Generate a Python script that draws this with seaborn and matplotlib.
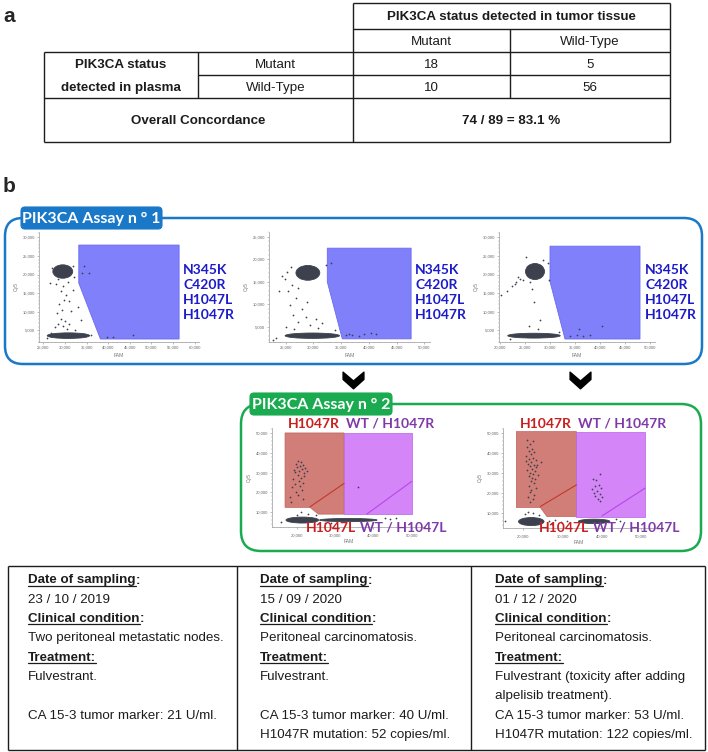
import matplotlib
matplotlib.use("Agg")
import matplotlib.pyplot as plt
import seaborn as sns
from matplotlib.patches import Ellipse, FancyBboxPatch
from matplotlib.path import Path
from matplotlib.ticker import FuncFormatter, AutoMinorLocator
from matplotlib import font_manager as fm

W, H = 708, 752

# ---------------- panel a : concordance table ----------------
tissue_status = ["Mutant", "Wild-Type"]
plasma_status = ["Mutant", "Wild-Type"]
counts = [[18, 5], [10, 56]]
n_concordant, n_total = 74, 89

# ---------------- panel b : ddPCR droplet plots ----------------
assay1_targets = ["N345K", "C420R", "H1047L", "H1047R"]

# assay 1, sample 23/10/2019
a1_s1_gate_x = [33200, 56400, 56400, 38200, 33200]
a1_s1_gate_y = [27900, 27900, 2700, 2700, 17700]
a1_s1_clusters = [(29500, 20800, 4600, 3600), (30800, 3600, 9800, 1500)]  # x, y, spread x, spread y
a1_s1_drops = [(28000, 17500), (29500, 16800), (30600, 17900), (29000, 15500), (30200, 14600),
               (29800, 13200), (28600, 12100), (30900, 12800), (29300, 10600), (28200, 9700),
               (31500, 10200), (33000, 11400), (29000, 8100), (30000, 7400), (28500, 6800),
               (29600, 6100), (31000, 6600), (27600, 5900), (30400, 5400), (32300, 5200),
               (33600, 7900), (26500, 17800), (31900, 15800), (34300, 22200), (35500, 20500),
               (33900, 20300), (39700, 3300), (41200, 3300), (45800, 3900), (27000, 21800),
               (31800, 22400), (28300, 18900), (32000, 19200), (26800, 4300), (34500, 4100),
               (36000, 3800), (25800, 2900)]

# assay 1, sample 15/09/2020
a1_s2_gate_x = [32500, 47600, 47600, 35200, 32500]
a1_s2_gate_y = [22500, 22500, 2300, 2300, 15000]
a1_s2_clusters = [(29000, 17000, 4300, 3300), (29800, 3000, 9800, 1200)]
a1_s2_drops = [(24900, 15600), (26200, 14200), (25500, 12900), (27300, 13600), (26800, 11400),
               (25800, 9800), (27900, 8900), (26400, 7700), (28600, 7200), (27200, 6100),
               (29300, 5400), (30400, 6700), (31500, 5900), (25100, 5000), (24300, 16400),
               (23800, 13000), (28900, 10600), (30900, 4700), (23200, 2400), (22800, 2100),
               (35800, 3100), (37000, 3200), (38200, 3000), (39100, 3400), (40300, 3500),
               (41200, 3300), (36400, 3300), (33200, 19200), (26000, 18300), (25200, 17100),
               (32200, 18800), (26500, 4400), (33800, 4200)]

# assay 1, sample 01/12/2020
a1_s3_gate_x = [30000, 48000, 48000, 33000, 30000]
a1_s3_gate_y = [27600, 27600, 2700, 2700, 18100]
a1_s3_clusters = [(27000, 20800, 3800, 4300), (26800, 3600, 10500, 1300)]
a1_s3_drops = [(23500, 19300), (22400, 17000), (22900, 17400), (21300, 15700), (24600, 18500),
               (25900, 17900), (24000, 18900), (23200, 18000), (25200, 24800), (26800, 12700),
               (28000, 7800), (27500, 5500), (25700, 6300), (35700, 5500), (40300, 6200),
               (34000, 3600), (35300, 3700), (38000, 3800), (36500, 3600), (20200, 14500),
               (29500, 23000), (28600, 24000), (26300, 16000), (29800, 18500), (31800, 4600),
               (22000, 2600)]

# assay 2 (H1047R / H1047L), samples 15/09/2020 and 01/12/2020
a2_s2_red_x = [17000, 32400, 32400, 25700, 23500, 17000]
a2_s2_red_y = [50000, 50000, 9000, 9000, 12400, 12400]
a2_s2_purple_x = [32400, 50000, 50000, 32400]
a2_s2_purple_y = [50000, 50000, 9000, 9000]
a2_s2_split = [([23500, 32400], [12700, 24500]), ([38300, 50000], [9000, 25500])]
a2_s2_clusters = [(21500, 6000, 8500, 3000), (33500, 6000, 15000, 1600)]
a2_s2_drops = [(20500, 36000), (21200, 35200), (19800, 34100), (20900, 33500), (21800, 33900),
               (20200, 32600), (21500, 31800), (22300, 32400), (20700, 30900), (19500, 30200),
               (21900, 29700), (20400, 28800), (22000, 28100), (21100, 27300), (19200, 26500),
               (20600, 25600), (21700, 24900), (19600, 24100), (20900, 23200), (18900, 22700),
               (21300, 21400), (19900, 20200), (20500, 18800), (18400, 17700), (21600, 16500),
               (18600, 15100), (19400, 31400), (22600, 30600), (36100, 22600),
               (44500, 6600), (46000, 6800), (27500, 4500), (29000, 4300), (25000, 8500),
               (21200, 10000), (20000, 8600), (23000, 8900), (16000, 5200), (43000, 7200)]

a2_s3_red_x = [18200, 33500, 33500, 26000, 24300, 18200]
a2_s3_red_y = [50500, 50500, 8200, 8200, 12700, 12700]
a2_s3_purple_x = [33500, 51000, 51000, 33500]
a2_s3_purple_y = [50500, 50500, 8200, 8200]
a2_s3_split = [([24300, 33500], [13200, 24000]), ([40000, 51000], [8500, 22400])]
a2_s3_clusters = [(22000, 5700, 6500, 4000), (38000, 5800, 8000, 2200)]
a2_s3_drops = [(21000, 46500), (22400, 45800), (21600, 44200), (20900, 42700), (22100, 41900),
               (21400, 40800), (22800, 40100), (21900, 39200), (20700, 38500), (22500, 37600),
               (21300, 36900), (23100, 36200), (22000, 35400), (21200, 34600), (22700, 34000),
               (21700, 33300), (23300, 32700), (22200, 32100), (21000, 31400), (22900, 30800),
               (21800, 30100), (22500, 29400), (23600, 28900), (21400, 28300), (22300, 27600),
               (23000, 26800), (21900, 25900), (22600, 24700), (21300, 23500), (23200, 22600),
               (22000, 21400), (21600, 20200), (22800, 19100), (21100, 18000), (22400, 16900),
               (21700, 15300), (23400, 33800), (20600, 36000), (24600, 35200),
               (39500, 29500), (37800, 27000), (38500, 26500), (39200, 24100), (38100, 23200),
               (39800, 22600), (37400, 21700), (38800, 20900), (39600, 19300), (38300, 18600),
               (40100, 17800), (38900, 16900), (39400, 15900), (37900, 20100),
               (15300, 6000), (21200, 10500), (20500, 9300), (22500, 9800), (26500, 5800),
               (28000, 6300), (29500, 5500), (31000, 6100), (27200, 4600), (43500, 6800),
               (44600, 5900), (24000, 9000)]

clinical_dates = ["23 / 10 / 2019", "15 / 09 / 2020", "01 / 12 / 2020"]
clinical_condition = ["Two peritoneal metastatic nodes.", "Peritoneal carcinomatosis.",
                      "Peritoneal carcinomatosis."]
treatment = [["Fulvestrant.", ""], ["Fulvestrant.", ""],
             ["Fulvestrant (toxicity after adding", "alpelisib treatment)."]]
ca153 = [21, 40, 53]
h1047r_copies = [None, 52, 122]

# ---------------- style ----------------
sns.set_theme(style="ticks")


def has_font(name):
    try:
        fm.findfont(fm.FontProperties(family=name), fallback_to_default=False)
        return True
    except ValueError:
        return False


if has_font("Liberation Sans Narrow"):
    TFONT, TSIZE = "Liberation Sans Narrow", 10.8
else:
    TFONT, TSIZE = "Liberation Sans", 9.6
LFONT = "Lato" if has_font("Lato") else "DejaVu Sans"
plt.rcParams["font.family"] = [TFONT, "DejaVu Sans"]

BLUE_BOX = "#1a78c9"
GREEN_BOX = "#1aab50"
DOT = "#3c414d"
INK = "#1c1c1c"

fig = plt.figure(figsize=(W / 100, H / 100), dpi=100)
ov = fig.add_axes([0, 0, 1, 1], zorder=5)
ov.set_xlim(0, W)
ov.set_ylim(H, 0)
ov.axis("off")
ov.patch.set_alpha(0)


def hline(y, x0, x1, **kw):
    ov.plot([x0, x1], [y, y], color=INK, lw=1.0, solid_capstyle="butt", **kw)


def vline(x, y0, y1, **kw):
    ov.plot([x, x], [y0, y1], color=INK, lw=1.0, solid_capstyle="butt", **kw)


# ---- panel a ----
ov.text(9, 16, "a", fontsize=15, fontweight="bold", family="Liberation Sans", ha="center", va="center")
TX = [44, 198, 353, 510, 670]
hline(3, TX[2], TX[4]); hline(29, TX[2], TX[4]); hline(52, TX[0], TX[4])
hline(75, TX[1], TX[4]); hline(98, TX[0], TX[4]); hline(142, TX[0], TX[4])
vline(TX[0], 52, 142); vline(TX[1], 52, 98); vline(TX[2], 3, 142)
vline(TX[3], 29, 98); vline(TX[4], 3, 142)

tk = dict(fontsize=TSIZE, ha="center", va="center_baseline", color=INK)
ov.text((TX[2] + TX[4]) / 2, 16, "PIK3CA status detected in tumor tissue", fontweight="bold", **tk)
col_c = [(TX[2] + TX[3]) / 2, (TX[3] + TX[4]) / 2]
row_c = [63.5, 86.5]
for j, lab in enumerate(tissue_status):
    ov.text(col_c[j], 40.5, lab, **tk)
ov.text((TX[0] + TX[1]) / 2, row_c[0], "PIK3CA status", fontweight="bold", **tk)
ov.text((TX[0] + TX[1]) / 2, row_c[1], "detected in plasma", fontweight="bold", **tk)
for i, lab in enumerate(plasma_status):
    ov.text((TX[1] + TX[2]) / 2, row_c[i], lab, **tk)
    for j in range(2):
        ov.text(col_c[j], row_c[i], str(counts[i][j]), **tk)
ov.text((TX[0] + TX[2]) / 2, 120, "Overall Concordance", fontweight="bold", **tk)
ov.text((TX[2] + TX[4]) / 2, 120,
        f"{n_concordant} / {n_total} = {100 * n_concordant / n_total:.1f} %", fontweight="bold", **tk)

# ---- panel b frames ----
ov.text(9, 187, "b", fontsize=15, fontweight="bold", family="Liberation Sans", ha="center", va="center")


def frame(x0, y0, x1, y1, color, r):
    ov.add_patch(FancyBboxPatch((x0, y0), x1 - x0, y1 - y0, boxstyle=f"round,pad=0,rounding_size={r}",
                                fill=False, ec=color, lw=1.8))


def tab(x0, y0, x1, y1, color, text):
    ov.add_patch(FancyBboxPatch((x0, y0), x1 - x0, y1 - y0, boxstyle="round,pad=0,rounding_size=4",
                                fc=color, ec=color, lw=0.8))
    ov.text((x0 + x1) / 2, (y0 + y1) / 2 + 0.5, text, color="white", fontsize=11.5,
            fontweight="bold", family=LFONT, ha="center", va="center")


frame(5, 218, 702, 364, BLUE_BOX, 18)
tab(21, 207, 162, 229, BLUE_BOX, "PIK3CA Assay n ° 1")
frame(241, 404, 701, 551, GREEN_BOX, 20)
tab(250, 393, 392, 415, GREEN_BOX, "PIK3CA Assay n ° 2")

chevron = Path([(-1, 0.8), (0, -0.05), (1, 0.8), (1, 0.1), (0, -0.8), (-1, 0.1), (-1, 0.8)],
               [Path.MOVETO] + [Path.LINETO] * 5 + [Path.CLOSEPOLY])
ov.plot([353, 580], [380, 380], ls="none", marker=chevron, markersize=15, color="black")

# ---- droplet plots ----
fmt = FuncFormatter(lambda v, p: f"{v:,.0f}")


def px_axes(left, top, right, bottom):
    return fig.add_axes([left / W, 1 - bottom / H, (right - left) / W, (bottom - top) / H])


def droplet_ax(box, xlim, ylim, xticks, yticks, xpad=1.2):
    ax = px_axes(*box)
    ax.set_facecolor("none")
    ax.set_xlim(*xlim)
    ax.set_ylim(*ylim)
    ax.set_xticks(xticks)
    ax.set_yticks(yticks)
    ax.xaxis.set_minor_locator(AutoMinorLocator(5))
    ax.yaxis.set_minor_locator(AutoMinorLocator(5))
    ax.xaxis.set_major_formatter(fmt)
    ax.yaxis.set_major_formatter(fmt)
    ax.tick_params(labelsize=3, colors="#8a8a8a", labelcolor="#666666", length=1.6, width=0.4, pad=1.2)
    ax.tick_params(axis="x", pad=xpad)
    ax.tick_params(which="minor", length=0.8, width=0.3, colors="#8a8a8a")
    sns.despine(ax=ax)
    for s in ("left", "bottom"):
        ax.spines[s].set_color("#9a9a9a")
        ax.spines[s].set_linewidth(0.5)
    ax.set_xlabel("FAM", fontsize=3.6, color="#777777", labelpad=2)
    ax.set_ylabel("Cy5", fontsize=3.6, color="#777777", labelpad=3)
    return ax


def draw_drops(ax, clusters, drops):
    for cx, cy, w, h in clusters:
        ax.add_patch(Ellipse((cx, cy), w, h, fc=DOT, ec=DOT, lw=0.6, zorder=3))
    sns.scatterplot(x=[d[0] for d in drops], y=[d[1] for d in drops], ax=ax, s=1.6,
                    color=DOT, linewidth=0, legend=False, zorder=4)


assay1 = [
    (dict(box=(39, 232, 199, 342), xlim=(24000, 61000), ylim=(1900, 31400),
          xticks=range(25000, 60001, 5000), yticks=range(5000, 30001, 5000)),
     a1_s1_gate_x, a1_s1_gate_y, a1_s1_clusters, a1_s1_drops, 183),
    (dict(box=(269, 232, 430, 342), xlim=(22000, 51000), ylim=(1600, 26100),
          xticks=range(25000, 50001, 5000), yticks=range(5000, 25001, 5000)),
     a1_s2_gate_x, a1_s2_gate_y, a1_s2_clusters, a1_s2_drops, 415),
    (dict(box=(499, 232, 655, 342), xlim=(19800, 51000), ylim=(1900, 31400),
          xticks=range(20000, 50001, 5000), yticks=range(5000, 30001, 5000)),
     a1_s3_gate_x, a1_s3_gate_y, a1_s3_clusters, a1_s3_drops, 645),
]
for cfg, gx, gy, cl, dr, lab_x in assay1:
    ax = droplet_ax(**cfg)
    ax.fill(gx, gy, fc="#8080fb", ec="#6a6af0", lw=0.6, zorder=2)
    draw_drops(ax, cl, dr)
    for k, t in enumerate(assay1_targets):
        ov.text(lab_x, 270 + 15 * k, t, color="#1b1bc9", fontsize=10, fontweight="bold",
                family=LFONT, ha="left", va="center")

assay2 = [
    (dict(box=(272, 428, 425, 527), xlim=(13600, 53500), ylim=(2500, 52500),
          xticks=range(20000, 50001, 10000), yticks=range(10000, 50001, 10000), xpad=3.2),
     a2_s2_red_x, a2_s2_red_y, a2_s2_purple_x, a2_s2_purple_y, a2_s2_split, a2_s2_clusters,
     a2_s2_drops, (314, 390, 331, 403)),
    (dict(box=(503, 428, 655, 528), xlim=(14800, 53500), ylim=(2500, 52300),
          xticks=range(20000, 50001, 10000), yticks=range(10000, 50001, 10000), xpad=3.2),
     a2_s3_red_x, a2_s3_red_y, a2_s3_purple_x, a2_s3_purple_y, a2_s3_split, a2_s3_clusters,
     a2_s3_drops, (546, 622, 564, 636)),
]
for cfg, rx, ry, px, py, split, cl, dr, labs in assay2:
    ax = droplet_ax(**cfg)
    ax.xaxis.labelpad = 1
    ax.fill(rx, ry, fc="#d27e78", ec="#c0625c", lw=0.5, zorder=2)
    ax.fill(px, py, fc="#d486f8", ec="#b861e6", lw=0.5, zorder=2)
    ax.plot(*split[0], color="#c0392b", lw=0.8, zorder=2.5)
    ax.plot(*split[1], color="#b845ec", lw=0.8, zorder=2.5)
    draw_drops(ax, cl, dr)
    lk = dict(fontsize=10, fontweight="bold", family=LFONT, ha="center", va="center")
    ov.text(labs[0], 424, "H1047R", color="#c8201f", **lk)
    ov.text(labs[1], 424, "WT / H1047R", color="#7e3aa8", **lk)
    ov.text(labs[2], 528, "H1047L", color="#c8201f", **lk)
    ov.text(labs[3], 528, "WT / H1047L", color="#7e3aa8", **lk)

# ---- clinical table ----
BX = [8, 237, 471, 705]
hline(566, BX[0], BX[3]); hline(750, BX[0], BX[3])
for x in BX:
    vline(x, 566, 750)

col_x = [28, 260, 495]
row_y = [579 + 19.3 * i for i in range(9)]
underlined = []
for c in range(3):
    lines = [("Date of sampling", ":"), clinical_dates[c], ("Clinical condition", ":"),
             clinical_condition[c], ("Treatment:", ""), treatment[c][0], treatment[c][1],
             f"CA 15-3 tumor marker: {ca153[c]} U/ml.",
             "" if h1047r_copies[c] is None else f"H1047R mutation: {h1047r_copies[c]} copies/ml."]
    for r, ln in enumerate(lines):
        if isinstance(ln, tuple):
            t = ov.text(col_x[c], row_y[r], ln[0], fontsize=TSIZE, fontweight="bold",
                        color=INK, ha="left", va="center_baseline")
            underlined.append((t, ln[1], row_y[r]))
        elif ln:
            ov.text(col_x[c], row_y[r], ln, fontsize=TSIZE, color=INK, ha="left", va="center_baseline")

fig.canvas.draw()
rend = fig.canvas.get_renderer()
inv = ov.transData.inverted()
for t, rest, y in underlined:
    bb = t.get_window_extent(rend)
    x0 = inv.transform((bb.x0, bb.y0))[0]
    x1 = inv.transform((bb.x1, bb.y0))[0]
    ov.plot([x0, x1], [y + 6.5, y + 6.5], color=INK, lw=0.9)
    if rest:
        ov.text(x1, y, rest, fontsize=TSIZE, fontweight="bold", color=INK, ha="left",
                va="center_baseline")

fig.savefig("out.png", dpi=100)
